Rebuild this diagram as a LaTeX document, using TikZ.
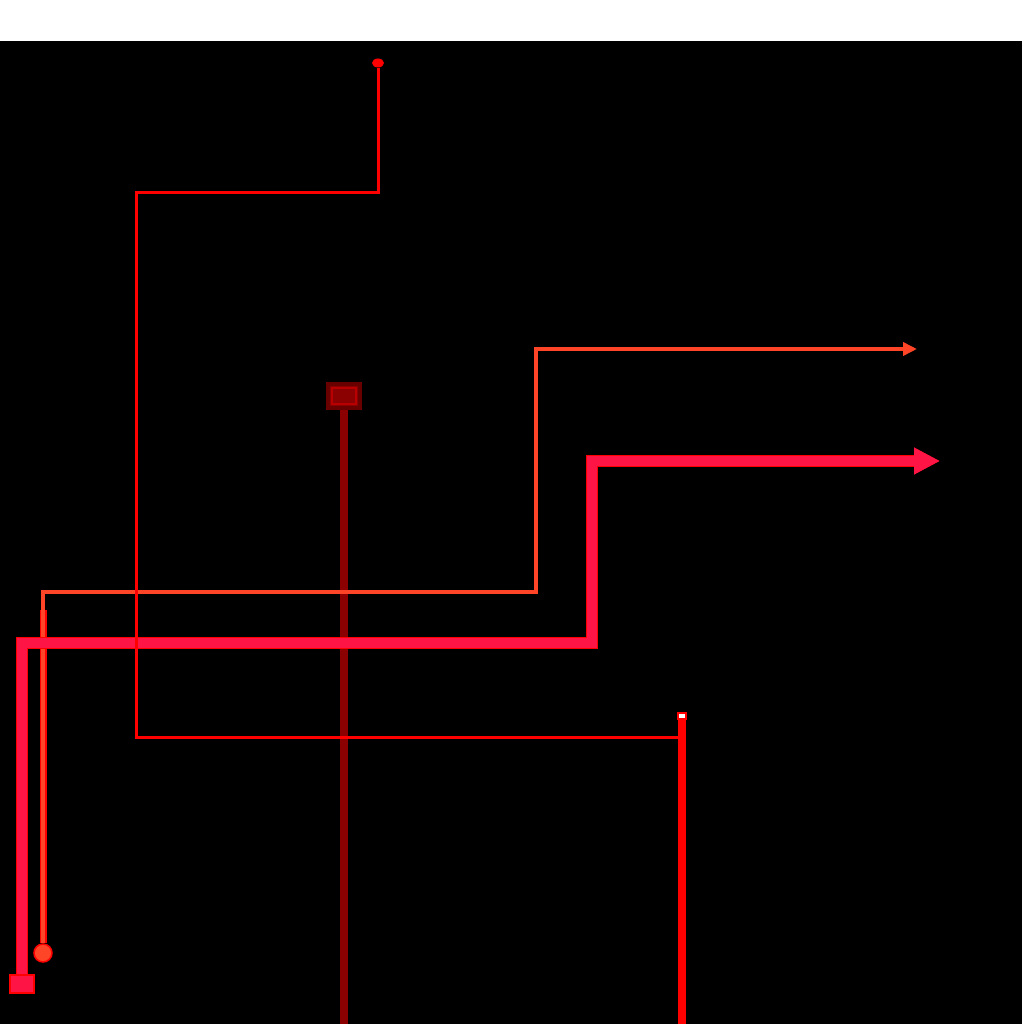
\documentclass[tikz,border=0pt]{standalone}
\usepackage{tikz}
\usetikzlibrary{arrows.meta, positioning, shapes.geometric}
\usepackage{xcolor}
\definecolor{wirered}{RGB}{255,0,0}
\definecolor{wiredark}{RGB}{139,0,0}
\definecolor{wireorange}{RGB}{255,69,40}
\definecolor{wirecrimson}{RGB}{255,20,70}

\begin{document}
\begin{tikzpicture}[x=0.1mm, y=-0.1mm,
    thinwire/.style={wirered, line width=0.3mm},
    darkwire/.style={wiredark, line width=0.8mm},
    orangewire/.style={wireorange, line width=0.35mm},
    crimsonwire/.style={wirecrimson, line width=0.95mm, preaction={draw=wirered, line width=1.15mm}}]
  % background
  \useasboundingbox (0,0) rectangle (1024,1024);
  \fill[white] (0,0) rectangle (1024,41);
  \fill[black] (0,41) rectangle (1022,1024);

  % terminals
  \node[draw=wiredark!75!black, fill=wiredark, line width=0.35mm, minimum width=3.2mm, minimum height=2.4mm, inner sep=0pt] (darkpad) at (344,396) {};
  \node[draw=wiredark!60!wirered, line width=0.12mm, minimum width=2.4mm, minimum height=1.6mm, inner sep=0pt] (darkpadin) at (darkpad.center) {};
  \node[ellipse, fill=wirered, minimum width=1.2mm, minimum height=0.9mm, inner sep=0pt] (topdot) at (378,63) {};
  \node[draw=wirered, fill=white, line width=0.25mm, minimum width=0.8mm, minimum height=0.6mm, inner sep=0pt] (smallpad) at (682,716) {};
  \node[circle, draw=wirered, fill=wireorange, line width=0.15mm, minimum size=1.8mm, inner sep=0pt] (orangedot) at (43,953) {};
  \node[draw=wirered, fill=wirecrimson, line width=0.15mm, minimum width=2.4mm, minimum height=1.8mm, inner sep=0pt] (crimsonpad) at (22,984) {};

  % bends and free ends
  \coordinate (darkend) at (344,1024);
  \coordinate (redend) at (682,1024);
  \coordinate (ta) at (378,193);
  \coordinate (tb) at (136,193);
  \coordinate (tc) at (136,737);
  \coordinate (td) at (682,737);
  \coordinate (oa) at (43,592);
  \coordinate (ob) at (536,592);
  \coordinate (oc) at (536,349);
  \coordinate (oend) at (917,349);
  \coordinate (ca) at (22,643);
  \coordinate (cb) at (592,643);
  \coordinate (cc) at (592,461);
  \coordinate (cend) at (940,461);

  \draw[darkwire] (darkpad.south) -- (darkend);
  \draw[wirered, line width=0.7mm] (orangedot.north) -- (43,610);
  \draw[orangewire, -{Triangle[length=1.4mm, width=1.3mm]}] (orangedot.north) -- (oa) -- (ob) -- (oc) -- (oend);
  \draw[crimsonwire, -{Triangle[length=2.6mm, width=2.5mm]}] (crimsonpad.north) -- (ca) -- (cb) -- (cc) -- (cend);
  \draw[thinwire] (topdot) -- (ta) -- (tb) -- (tc) -- (td);
  \draw[wirered, line width=0.8mm] (smallpad.south) -- (redend);
\end{tikzpicture}
\end{document}
